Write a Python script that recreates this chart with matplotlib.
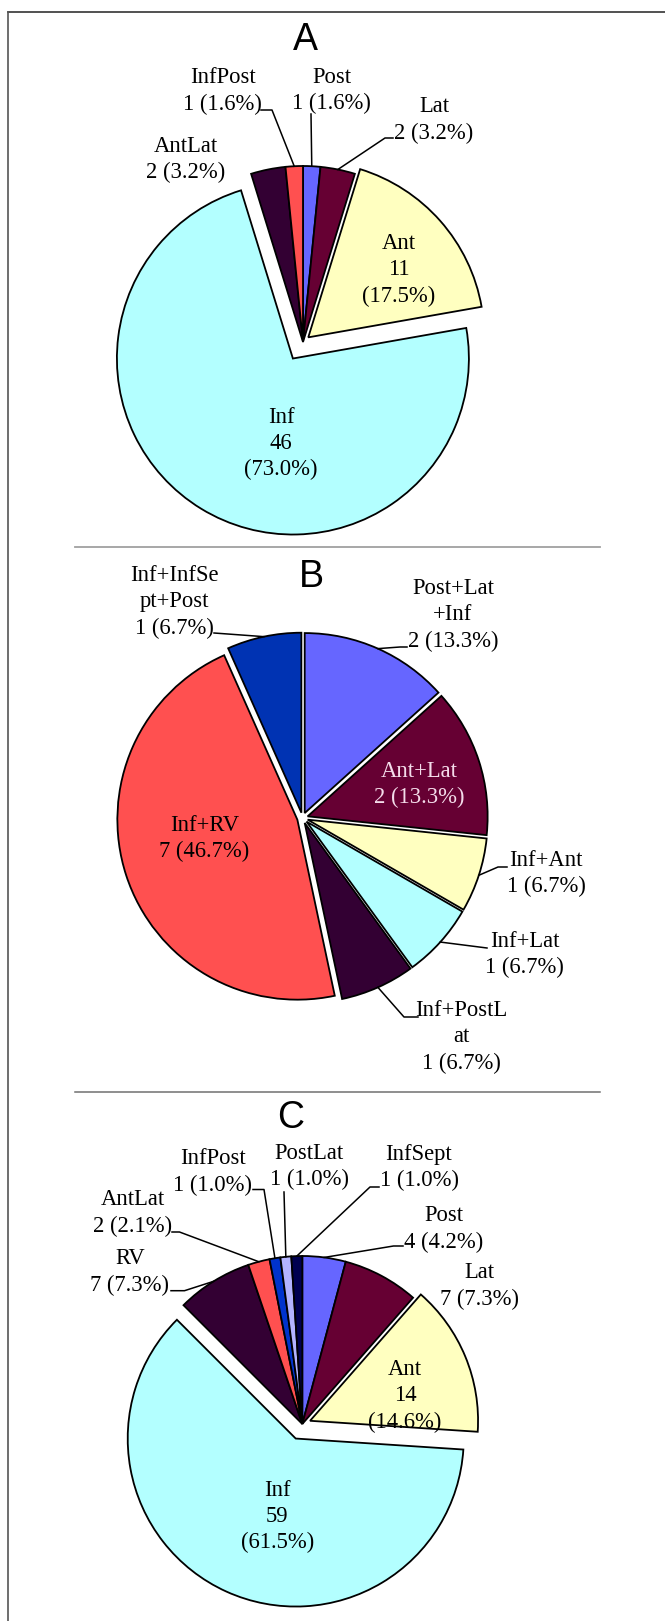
import numpy as np
import matplotlib.pyplot as plt

W, H = 665, 1621

# Panel A
a_names = ["Post", "Lat", "Ant", "Inf", "AntLat", "InfPost"]
a_counts = [1, 2, 11, 46, 2, 1]
a_colors = ["#6666ff", "#660033", "#ffffc0", "#b3ffff", "#330033", "#ff5050"]
a_explode = [0, 0, 0.04, 0.11, 0, 0]

# Panel B
b_names = ["Post+Lat\n+Inf", "Ant+Lat", "Inf+Ant", "Inf+Lat", "Inf+PostL\nat", "Inf+RV", "Inf+InfSe\npt+Post"]
b_counts = [2, 2, 1, 1, 1, 7, 1]
b_colors = ["#6666ff", "#660033", "#ffffc0", "#b3ffff", "#330033", "#ff5050", "#0033b3"]
b_explode = [0.03] * 7

# Panel C
c_names = ["Post", "Lat", "Ant", "Inf", "RV", "AntLat", "InfPost", "PostLat", "InfSept"]
c_counts = [4, 7, 14, 59, 7, 2, 1, 1, 1]
c_colors = ["#6666ff", "#660033", "#ffffc0", "#b3ffff", "#330033", "#ff5050", "#0033cc", "#b3b3ff", "#000050"]
c_explode = [0, 0, 0.05, 0.095, 0, 0, 0, 0, 0]

# label layout in pixel coords (x, y, stacked, leader points, text colour)
a_labels = [
    (331.5, 90.5, False, [(311, 114)], "black"),
    (434, 120, False, [(393, 138), (385, 138)], "black"),
    (398.5, 270, True, None, "black"),
    (281, 443.5, True, None, "black"),
    (186, 159.5, False, None, "black"),
    (222.7, 91, False, [(261, 110), (272, 110)], "black"),
]
b_labels = [
    (453, 615, False, [(407, 647), (400, 647)], "black"),
    (419, 784.5, False, None, "#f4dcea"),
    (546, 873.5, False, [(507, 867), (498, 867)], "black"),
    (524.5, 954.5, False, [(487, 948)], "black"),
    (461.5, 1037, False, [(418, 1017), (404, 1017)], "black"),
    (204.4, 838.5, False, None, "black"),
    (174.6, 602, False, [(214, 633)], "black"),
]
c_labels = [
    (444, 1229, False, [(403, 1246), (393.5, 1246)], "black"),
    (479.7, 1286, False, None, "black"),
    (405, 1396, True, None, "black"),
    (277.4, 1516.7, True, None, "black"),
    (129.8, 1272, False, [(171, 1290.7), (184.5, 1290.7)], "black"),
    (132.5, 1213, False, [(172, 1232), (179.5, 1232)], "black"),
    (212.7, 1172, False, [(253, 1189.5), (264, 1189.5)], "black"),
    (309, 1166.7, False, [(284, 1192)], "black"),
    (419, 1167.7, False, [(379, 1187), (370, 1187)], "black"),
]

fig = plt.figure(figsize=(W / 100, H / 100), dpi=100)
ax = fig.add_axes([0, 0, 1, 1])

serif = "Liberation Serif"


def panel(title, txy, names, counts, colors, explode, center, r, labels):
    total = sum(counts)
    wedges, _ = ax.pie(counts, colors=colors, startangle=90, counterclock=False,
                       center=(center[0], H - center[1]), radius=r,
                       explode=[e * r for e in explode],
                       wedgeprops=dict(edgecolor="black", linewidth=1.3))
    ax.text(txy[0], H - txy[1], title, ha="center", va="center",
            fontsize=27, family="Liberation Sans")
    for i, (x, y, stacked, lead, col) in enumerate(labels):
        pct = 100 * counts[i] / total
        if stacked:
            s = f"{names[i]}\n{counts[i]}\n({pct:.1f}%)"
        else:
            s = f"{names[i]}\n{counts[i]} ({pct:.1f}%)"
        ax.text(x, H - y, s, ha="center", va="center", fontsize=16.3,
                family=serif, color=col, linespacing=1.32, zorder=5)
        if lead:
            w = wedges[i]
            tm = np.deg2rad((w.theta1 + w.theta2) / 2)
            ex = w.center[0] + w.r * np.cos(tm)
            ey = w.center[1] + w.r * np.sin(tm)
            xs = [p[0] for p in lead] + [ex]
            ys = [H - p[1] for p in lead] + [ey]
            ax.plot(xs, ys, color="black", lw=1.1, zorder=4)


panel("A", (305.6, 40), a_names, a_counts, a_colors, a_explode, (303, 342), 176, a_labels)
panel("B", (311.6, 576.6), b_names, b_counts, b_colors, b_explode, (302.5, 818), 180, b_labels)
panel("C", (290.7, 1118), c_names, c_counts, c_colors, c_explode, (302.3, 1424), 168, c_labels)

# separators and frame
ax.plot([75, 600], [H - 546.5] * 2, color="#a0a0a0", lw=1.3)
ax.plot([75, 600], [H - 1091.5] * 2, color="#707070", lw=1.1)
ax.plot([8, 665], [H - 11.7] * 2, color="#333333", lw=1.2)
ax.plot([8, 8], [H - 11.7, 0], color="#555555", lw=1.2)

ax.set_xlim(0, W)
ax.set_ylim(0, H)
ax.set_aspect("equal")
ax.axis("off")

fig.savefig("out.png", dpi=100)
